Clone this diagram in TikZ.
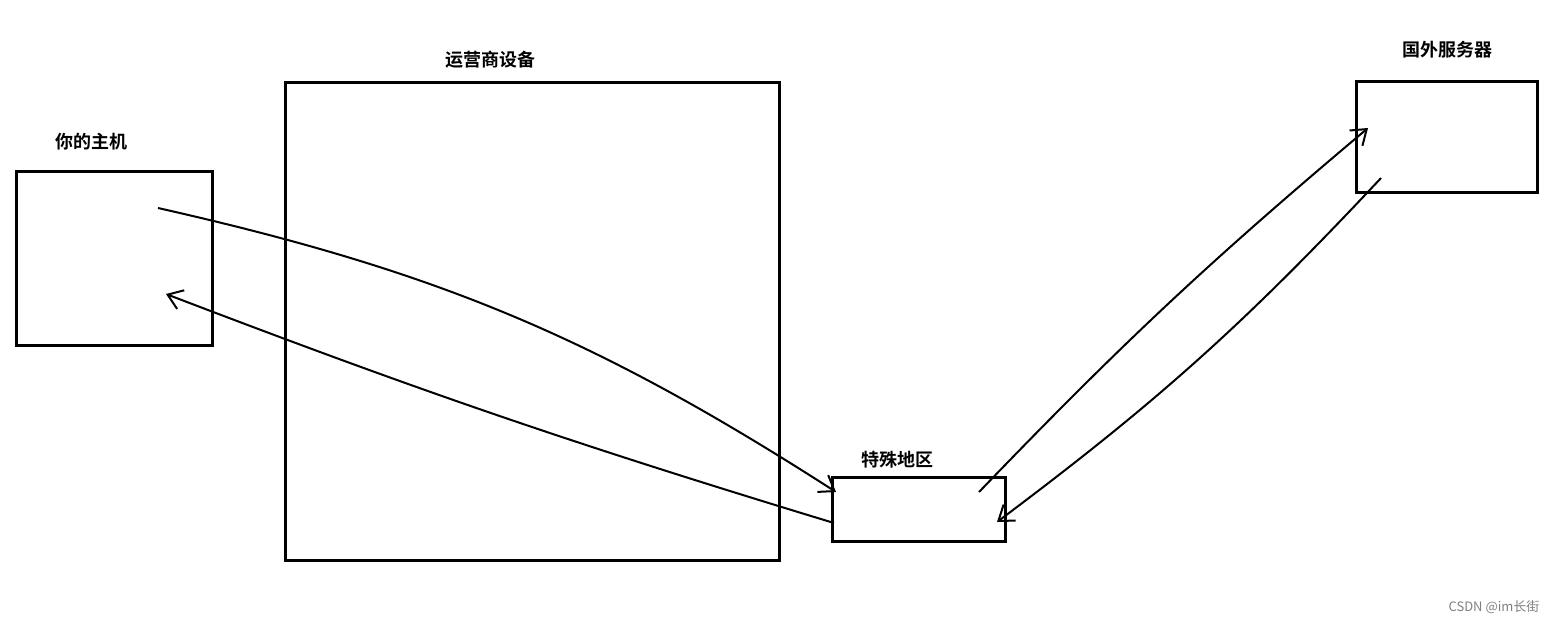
\documentclass[tikz,border=0pt]{standalone}
\usepackage{fontspec}
\newfontfamily\cjk{Noto Sans CJK SC}[BoldFont={* Bold}]
\usetikzlibrary{arrows.meta}
\begin{document}
\begin{tikzpicture}[x=0.5pt, y=0.5pt, >={Straight Barb[length=7pt,width=10pt]},
  box/.style={draw, line width=1.5pt, rectangle, inner sep=0pt},
  lbl/.style={font=\cjk\bfseries\fontsize{9}{10}\selectfont},
  link/.style={->, line width=1pt}]
\useasboundingbox (0,0) rectangle (1556,-622);
\node[box, minimum width=98pt, minimum height=87pt] (host) at (114,-258) {};
\node[box, minimum width=247pt, minimum height=239pt] (isp) at (532,-321) {};
\node[box, minimum width=86.5pt, minimum height=32pt] (region) at (918.5,-509) {};
\node[box, minimum width=90.5pt, minimum height=55.5pt] (server) at (1446.5,-136.5) {};
\node[lbl] (hostlabel) at (91,-142) {你的主机};
\node[lbl] (isplabel) at (490,-60) {运营商设备};
\node[lbl] (regionlabel) at (897,-460) {特殊地区};
\node[lbl] (serverlabel) at (1447,-50) {国外服务器};
\node[font=\cjk\fontsize{6.5}{7}\selectfont, text=gray] (mark) at (1494,-607) {CSDN @im长街};
\coordinate (hostout) at (158,-208);
\coordinate (hostin) at (166,-294);
\coordinate (regionin) at (836,-492);
\coordinate (regionout) at (834,-523);
\coordinate (regionup) at (979,-492);
\coordinate (regiondown) at (997,-522);
\coordinate (serverin) at (1368,-128);
\coordinate (serverout) at (1381,-178);
\draw[link] (hostout) to[bend left=10] (regionin);
\draw[link] (regionout) to[bend left=2] (hostin);
\draw[link] (regionup) to[bend left=3] (serverin);
\draw[link] (serverout) to[bend left=5] (regiondown);
\end{tikzpicture}
\end{document}
